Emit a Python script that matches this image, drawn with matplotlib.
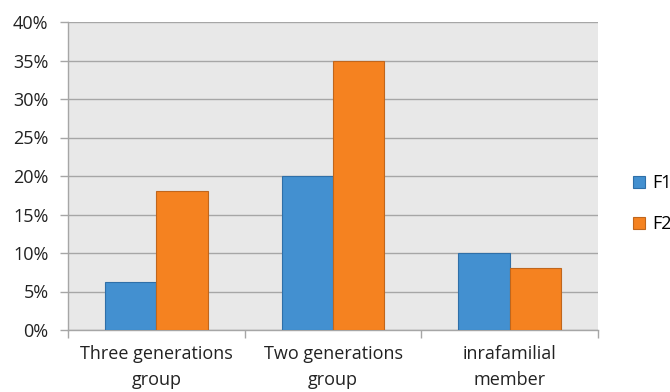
import numpy as np
import matplotlib.pyplot as plt
from matplotlib.ticker import FuncFormatter

categories = ['Three generations\ngroup', 'Two generations\ngroup', 'inrafamilial\nmember']
f1 = [0.062, 0.20, 0.10]
f2 = [0.18, 0.35, 0.08]

plt.rcParams['font.family'] = ['Open Sans', 'DejaVu Sans']

fig = plt.figure(figsize=(6.7, 3.92), dpi=100)
ax = fig.add_axes([68/670, 1 - 330/392, 530/670, 308/392])
ax.set_facecolor('#e8e8e8')

x = np.arange(len(categories))
w = 0.29
ax.bar(x - w/2, f1, w, color='#4390d0', edgecolor='#2f6fa8', linewidth=0.8, label='F1', zorder=3)
ax.bar(x + w/2, f2, w, color='#f58220', edgecolor='#c0661c', linewidth=0.8, label='F2', zorder=3)

ax.set_xlim(-0.5, len(categories) - 0.5)
ax.set_ylim(0, 0.40)
ax.set_yticks(np.arange(0, 0.41, 0.05))
ax.yaxis.set_major_formatter(FuncFormatter(lambda v, p: f'{v*100:.0f}%'))
ax.grid(axis='y', color='#a6a6a6', linewidth=1, zorder=0)

ax.set_xticks(x)
ax.set_xticklabels(categories, fontsize=13, color='#222222', linespacing=1.55)
ax.set_xticks(np.arange(-0.5, len(categories)), minor=True)
ax.tick_params(axis='x', which='major', length=0, pad=11)
ax.tick_params(axis='x', which='minor', length=6, color='#a6a6a6', width=1)
ax.tick_params(axis='y', length=6, color='#a6a6a6', width=1, labelsize=13, labelcolor='#222222', pad=8)

for s in ['top', 'right']:
    ax.spines[s].set_visible(False)
for s in ['left', 'bottom']:
    ax.spines[s].set_color('#a6a6a6')
    ax.spines[s].set_linewidth(1)

ax.legend(loc='center left', bbox_to_anchor=(1.035, 0.41), frameon=False,
          handlelength=0.65, handleheight=0.65, handletextpad=0.4,
          labelspacing=1.3, fontsize=13)

fig.savefig('out.png', dpi=100)
